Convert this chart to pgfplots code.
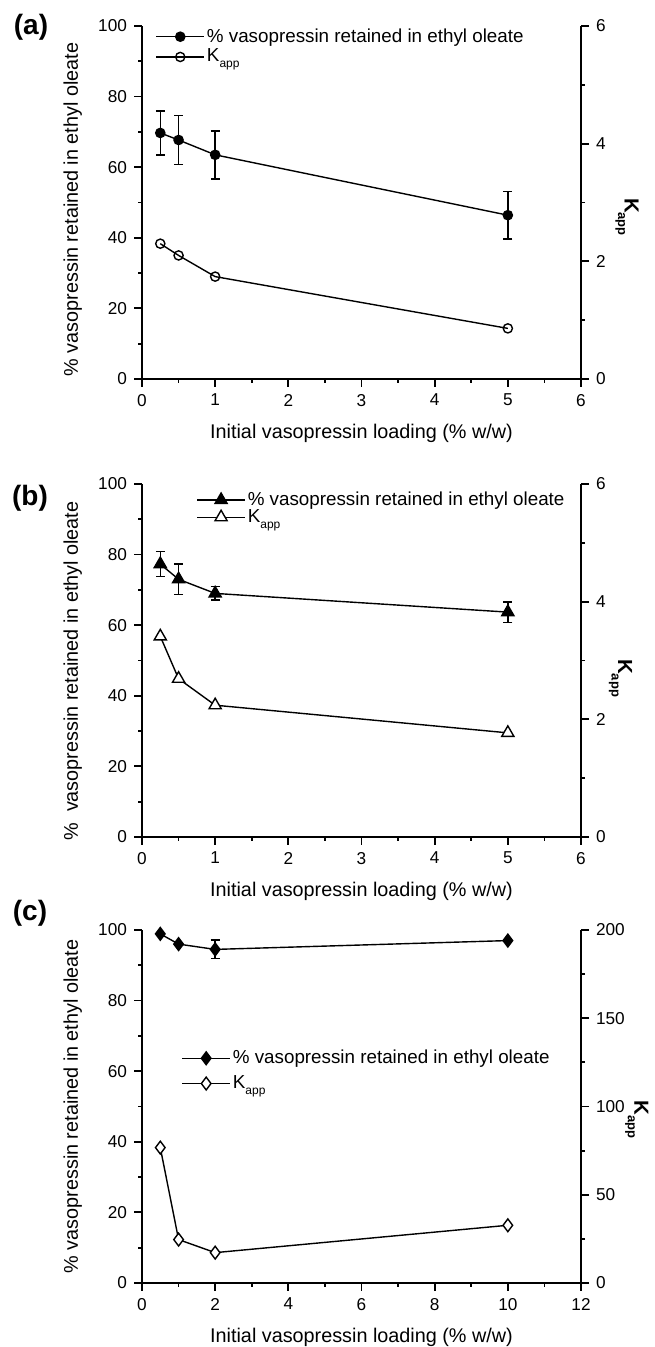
\documentclass[border=0pt]{standalone}
\usepackage{fontspec}
\setmainfont{Liberation Sans}
\usepackage{pgfplots}
\pgfplotsset{compat=1.18}

\newcommand{\Kapp}{K\raisebox{-0.6ex}{\fontsize{6}{6}\selectfont app}}
\newcommand{\KappB}{\bfseries K\raisebox{-0.6ex}{\fontsize{6.5}{6.5}\selectfont\bfseries app}}

\pgfplotsset{
  panel/.style={
    scale only axis, width=219.5pt, height=176.5pt,
    tick align=outside, major tick length=4pt, minor tick length=2pt,
    axis line style={line width=0.9pt},
    every tick/.style={line width=0.9pt, black},
    tick label style={font=\fontsize{8.6}{10}\selectfont},
    label style={font=\fontsize{9.9}{11}\selectfont},
    /pgf/number format/assume math mode=true,
    ymin=0, minor y tick num=1, minor x tick num=1,
  },
  leftax/.style={panel,
    axis x line*=bottom, axis y line*=left,
    ymax=100, ytick={0,20,...,100},
    xlabel={Initial vasopressin loading (\% w/w)},
    xlabel style={at={(axis description cs:0.5,-0.153)}, anchor=center},
  },
  rightax/.style={panel,
    axis x line=none, axis y line*=right,
    ylabel={\KappB},
    ylabel style={font=\fontsize{10.2}{12}\selectfont, rotate=180, anchor=center},
    legend style={draw=none, fill=none, inner sep=0pt,
      font=\fontsize{9.4}{11}\selectfont, nodes={inner sep=1pt}},
    legend cell align=left,
    legend image code/.code={
      \draw[mark repeat=2, mark phase=2, ##1] plot coordinates {(0pt,0pt) (12pt,0pt) (24pt,0pt)};
    },
  },
  dline/.style={black, line width=0.7pt},
  ebars/.style={error bars/.cd, y dir=both, y explicit,
    error bar style={line width=0.7pt, black},
    error mark options={rotate=90, mark size=2.25pt, line width=0.7pt, black}},
}

\begin{document}
\begin{tikzpicture}
\useasboundingbox (0,0) rectangle (327pt,673.5pt);

% ---------------- (a)
\begin{axis}[leftax, at={(71pt,484pt)}, xmin=0, xmax=6, xtick={0,...,6},
  ylabel={\% vasopressin retained in ethyl oleate},
  ylabel style={at={(axis description cs:-0.158,0.48)}, anchor=center}]
\addplot[dline, mark=*, mark size=2.3pt, mark options={fill=black}, ebars]
  coordinates {(0.25,69.7) +- (0,6.2) (0.5,67.7) +- (0,7.0) (1,63.5) +- (0,6.8) (5,46.4) +- (0,6.7)};
\end{axis}
\begin{axis}[rightax, at={(71pt,484pt)}, xmin=0, xmax=6, ymax=6, ytick={0,2,4,6},
  ylabel style={at={(axis description cs:1.105,0.459)}},
  legend style={at={(rel axis cs:0.03,1.0)}, anchor=north west, row sep=0pt}]
\addlegendimage{dline, mark=*, mark size=2.3pt, mark options={fill=black}}
\addplot[dline, mark=o, mark size=2.3pt, mark options={fill=white}]
  coordinates {(0.25,2.30) (0.5,2.10) (1,1.74) (5,0.86)};
\legend{\% vasopressin retained in ethyl oleate, \Kapp}
\end{axis}

% ---------------- (b)
\begin{axis}[leftax, at={(71pt,255pt)}, xmin=0, xmax=6, xtick={0,...,6},
  ylabel={\% \ vasopressin retained in ethyl oleate},
  ylabel style={at={(axis description cs:-0.158,0.47)}, anchor=center}]
\addplot[dline, mark=triangle*, mark size=3.5pt, mark options={fill=black}, ebars]
  coordinates {(0.25,77.3) +- (0,3.5) (0.5,73.0) +- (0,4.3) (1,69.0) +- (0,1.9) (5,63.7) +- (0,2.9)};
\end{axis}
\begin{axis}[rightax, at={(71pt,255pt)}, xmin=0, xmax=6, ymax=6, ytick={0,2,4,6},
  ylabel style={at={(axis description cs:1.09,0.45)}},
  legend style={at={(rel axis cs:0.123,0.985)}, anchor=north west, row sep=-1.5pt}]
\addlegendimage{dline, mark=triangle*, mark size=3.5pt, mark options={fill=black}}
\addplot[dline, mark=triangle*, mark size=3.5pt, mark options={fill=white}]
  coordinates {(0.25,3.41) (0.5,2.69) (1,2.24) (5,1.77)};
\legend{\% vasopressin retained in ethyl oleate, \Kapp}
\end{axis}

% ---------------- (c)
\begin{axis}[leftax, at={(71pt,32pt)}, xmin=0, xmax=12, xtick={0,2,...,12},
  ylabel={\% vasopressin retained in ethyl oleate},
  ylabel style={at={(axis description cs:-0.158,0.5)}, anchor=center}]
\addplot[dline, mark=diamond*, mark size=3.2pt, mark options={fill=black}, ebars]
  coordinates {(0.5,98.9) +- (0,0) (1,96.0) +- (0,0) (2,94.5) +- (0,2.65) (10,97.0) +- (0,0)};
\end{axis}
\begin{axis}[rightax, at={(71pt,32pt)}, xmin=0, xmax=12, ymax=200, ytick={0,50,...,200},
  ylabel style={at={(axis description cs:1.127,0.462)}},
  legend style={at={(rel axis cs:0.089,0.667)}, anchor=north west, row sep=2.5pt}]
\addlegendimage{dline, mark=diamond*, mark size=3.2pt, mark options={fill=black}}
\addplot[dline, mark=diamond*, mark size=3.2pt, mark options={fill=white}]
  coordinates {(0.5,76.7) (1,24.6) (2,17.2) (10,32.7)};
\legend{\% vasopressin retained in ethyl oleate, \Kapp}
\end{axis}

\node[font=\fontsize{14}{16}\selectfont\bfseries] at (15.5pt,660pt) {(a)};
\node[font=\fontsize{14}{16}\selectfont\bfseries] at (15pt,424.5pt) {(b)};
\node[font=\fontsize{14}{16}\selectfont\bfseries] at (15pt,217pt) {(c)};
\end{tikzpicture}
\end{document}
